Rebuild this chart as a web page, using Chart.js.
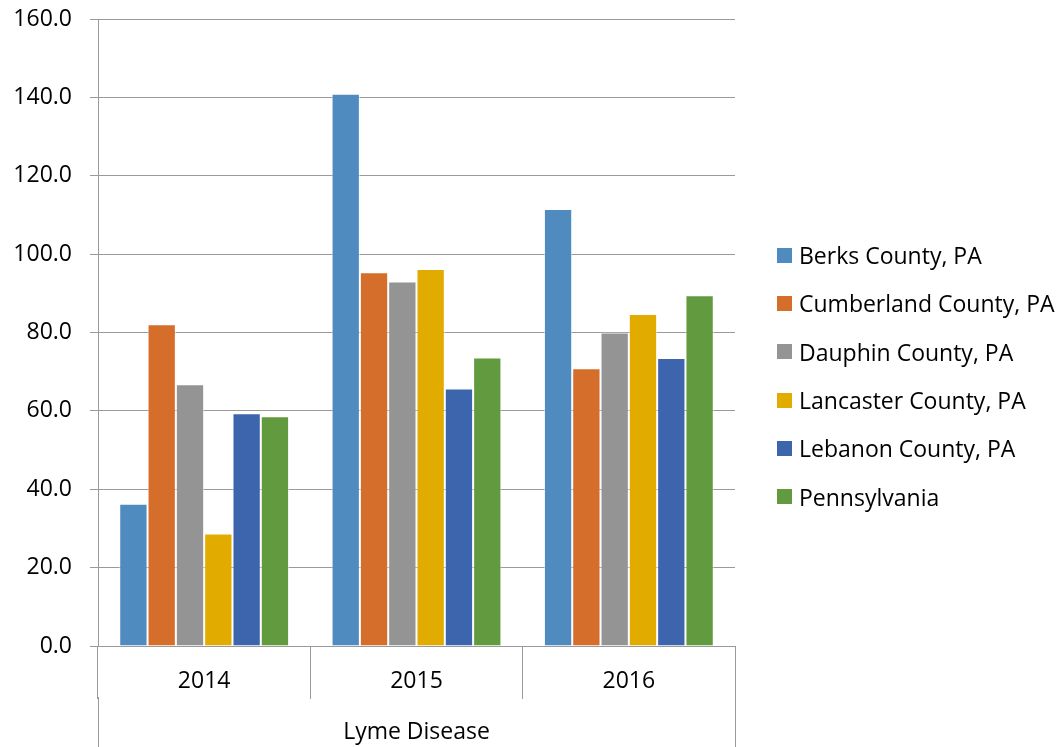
<!DOCTYPE html>
<html>
<head>
<meta charset="utf-8">
<script src="https://cdn.jsdelivr.net/npm/chart.js@4.4.1/dist/chart.umd.min.js"></script>
<style>
  html, body { margin: 0; padding: 0; background: #fff; }
  #wrap { position: relative; width: 1061px; height: 747px; }
  #lymeChart { position: absolute; left: 0; top: 0; }
  #legend { position: absolute; left: 777px; top: 231px; font-family: "Open Sans", sans-serif; font-size: 23px; color: #000; }
  .leg_item { display: flex; align-items: center; height: 48.3px; white-space: nowrap; }
  .leg_box { width: 15px; height: 15px; margin-right: 7px; flex: none; }
</style>
</head>
<body>
<div id="wrap">
  <canvas id="lymeChart"></canvas>
  <div id="legend"></div>
</div>
<script>
// 라임병 발생률 데이터
const years = ['2014', '2015', '2016'];
const groupLabel = ['Lyme Disease'];
const regions = [
    'Berks County, PA',
    'Cumberland County, PA',
    'Dauphin County, PA',
    'Lancaster County, PA',
    'Lebanon County, PA',
    'Pennsylvania'
];
const berks = [36.3, 140.9, 111.5];
const cumberland = [82.1, 95.4, 70.9];
const dauphin = [66.8, 93.0, 80.0];
const lancaster = [28.7, 96.2, 84.7];
const lebanon = [59.4, 65.7, 73.5];
const pennsylvania = [58.6, 73.6, 89.5];
const regionColors = ['#4f8bbf', '#d56e2b', '#949494', '#e2ab00', '#3d65ae', '#629b3f'];

const seriesValues = [berks, cumberland, dauphin, lancaster, lebanon, pennsylvania];

const canvas = document.getElementById('lymeChart');
canvas.width = 1061;
canvas.height = 747;
canvas.style.width = '1061px';
canvas.style.height = '747px';

const gridGray = '#9a9a9a';
const fontFamily = '"Open Sans", sans-serif';

const lymeChart = new Chart(canvas, {
    type: 'bar',
    data: {
        labels: years,
        datasets: regions.map((name, i) => ({
            label: name,
            data: seriesValues[i],
            backgroundColor: regionColors[i],
            borderColor: 'rgba(255,255,255,0.55)',
            borderWidth: 1,
            categoryPercentage: 0.8,
            barPercentage: 1.0,
            xAxisID: 'x'
        }))
    },
    options: {
        responsive: false,
        maintainAspectRatio: false,
        animation: false,
        layout: { padding: { top: 19, right: 326, bottom: 0, left: 0 } },
        plugins: {
            legend: { display: false },
            tooltip: { enabled: false }
        },
        scales: {
            y: {
                min: 0,
                max: 160,
                ticks: {
                    stepSize: 20,
                    padding: 18,
                    color: '#000',
                    font: { family: fontFamily, size: 23 },
                    callback: v => v.toFixed(1)
                },
                grid: { color: gridGray, lineWidth: 1, tickLength: 8 },
                border: { color: gridGray, width: 1 },
                afterFit(scale) {
                    scale.width = 98;
                    // 위/아래 여백은 layout padding으로만 결정
                    scale.paddingTop = 0;
                    scale.paddingBottom = 0;
                }
            },
            x: {
                position: 'bottom',
                offset: true,
                ticks: {
                    padding: -31,
                    color: '#000',
                    font: { family: fontFamily, size: 23 },
                    maxRotation: 0
                },
                grid: { offset: true, drawOnChartArea: false, tickLength: 53, color: gridGray },
                border: { color: gridGray, width: 1 },
                afterFit(scale) { scale.height = 51; }
            },
            x2: {
                type: 'category',
                position: 'bottom',
                labels: groupLabel,
                offset: true,
                ticks: {
                    padding: -30,
                    color: '#000',
                    font: { family: fontFamily, size: 23 },
                    maxRotation: 0
                },
                grid: { offset: true, drawOnChartArea: false, tickLength: 52, color: gridGray },
                border: { display: false },
                afterFit(scale) { scale.height = 50; }
            }
        }
    }
});

// 범례 (HTML)
const legendEl = document.getElementById('legend');
regions.forEach((name, i) => {
    const item = document.createElement('div');
    item.className = 'leg_item';
    const box = document.createElement('span');
    box.className = 'leg_box';
    box.style.background = regionColors[i];
    const txt = document.createElement('span');
    txt.textContent = name;
    item.appendChild(box);
    item.appendChild(txt);
    legendEl.appendChild(item);
});
</script>
</body>
</html>
